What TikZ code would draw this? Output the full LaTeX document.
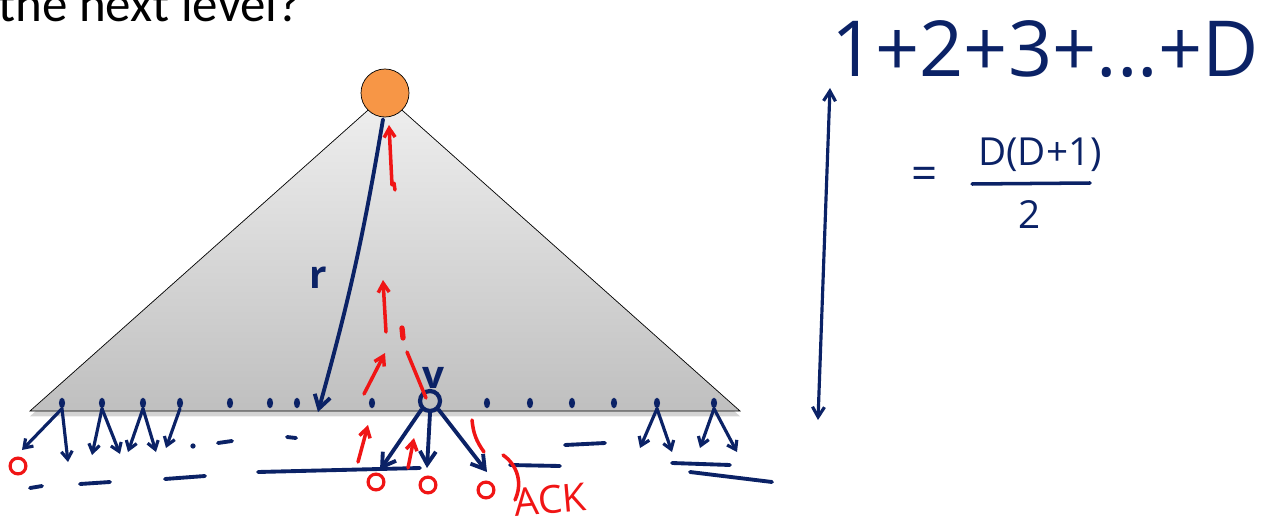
\documentclass[tikz,border=0pt]{standalone}
\usepackage{fontspec}
\setmainfont{Carlito}
\newfontfamily\handfont{Open Sans}
\usetikzlibrary{positioning,arrows.meta,shadows,calc,shapes.geometric}
\definecolor{ink}{HTML}{0B2266}
\definecolor{pen}{HTML}{F01515}
\definecolor{rootfill}{HTML}{F79646}

\begin{document}
\begin{tikzpicture}[
      x=0.02cm, y=-0.02cm,
      inkline/.style={draw=ink, line width=2.2pt, line cap=round, line join=round},
      penline/.style={draw=pen, line width=2pt, line cap=round, line join=round},
      inkarrow/.style={inkline, -{Straight Barb[length=2.6mm, width=3.2mm]}},
      penarrow/.style={penline, -{Straight Barb[length=1.8mm, width=2.2mm]}},
      leaf/.style={ellipse, fill=ink, inner sep=0pt, minimum width=3.5pt, minimum height=6pt},
      ackmark/.style={circle, draw=pen, line width=1.8pt, inner sep=0pt, minimum width=7pt, minimum height=9pt},
      hand/.style={text=ink, font=\handfont},
    ]
    \useasboundingbox (0,0) rectangle (1268,527);
    \clip (0,0) rectangle (1268,527);
    % slide title, cut off at the top
    \node[anchor=base west, inner sep=0pt, font=\fontsize{29}{32}\selectfont] (title) at (-2,22) {the next level?};
    % the shaded tree
    \shade[top color=gray!12, bottom color=gray!50, draw=black, thin,
           drop shadow={opacity=0.35, shadow xshift=0pt, shadow yshift=-3pt}]
      (385,95) -- (740,411) -- (30,411) -- cycle;
    \node[circle, draw=black, thin, fill=rootfill, minimum size=48*0.02cm, inner sep=0pt] (root) at (385,93) {};
    % leaves on the base
    \foreach \x [count=\i] in {62,102,143,180,230,270,297,372,487,530,572,614,657,714}
      \node[leaf] (l\i) at (\x,403) {};
    \node[circle, draw=ink, line width=2.4pt, minimum size=20*0.02cm, inner sep=0pt] (v) at (430,401) {};
    \node[hand, font=\handfont\bfseries\fontsize{22}{24}\selectfont] (vlbl) at (433,378) {v};
    \node[hand, font=\handfont\bfseries\fontsize{22}{24}\selectfont] (rlbl) at (318,278) {r};
    % the long path from the root
    \coordinate (rend) at (318,412);
    \draw[inkarrow] (root.south) ++(-2,2) coordinate (rstart) to[bend left=3] (rend);
    % children of v
    \coordinate (vl) at (380,470);
    \coordinate (vm) at (427,468);
    \coordinate (vr) at (487,472);
    \draw[inkarrow] (v.south west) -- (vl);
    \draw[inkarrow] (v.south) -- (vm);
    \draw[inkarrow] (v.south east) -- (vr);
    % children of the other leaves
    \foreach \n/\a/\b in {l1/22/450, l1/68/462, l2/92/455, l2/120/454, l3/128/452, l3/156/452, l4/166/448, l13/640/448, l13/672/452, l14/700/448, l14/737/452}
      \draw[inkline, -{Straight Barb[length=1.6mm, width=2.2mm]}, line width=1.8pt] (\n.south) -- (\a,\b);
    \node[leaf, minimum width=3pt, minimum height=3pt] (dot1) at (193,446) {};
    % next level (dashes)
    \foreach \a/\b/\c/\d in {218/443/232/441, 287/437/296/438, 565/445/605/443, 30/488/42/486, 80/484/110/482, 165/479/205/476, 258/472/420/468, 510/465/560/466, 672/463/730/465, 690/472/772/482}
      \draw[inkline] (\a,\b) -- (\c,\d);
    % acknowledgements going up
    \draw[penarrow] (392,185) -- (389,125);
    \draw[penline] (394,183) -- (395,190);
    \draw[penarrow] (386,332) -- (383,280);
    \draw[penline, line width=3pt] (402,328) -- (403,338);
    \draw[penline] (407,352) -- (426,398);
    \draw[penarrow] (364,394) -- (385,353);
    \draw[penarrow] (358,462) -- (368,425);
    \draw[penarrow] (408,468) -- (414,438);
    \draw[penline] (484,452) to[bend left=15] (472,420);
    \draw[penline] (503,455) to[bend left=40] (515,500);
    \node[ackmark] (a0) at (18,466) {};
    \node[ackmark] (a1) at (376,482) {};
    \node[ackmark] (a2) at (428,485) {};
    \node[ackmark] (a3) at (486,490) {};
    \node[text=pen, font=\handfont\fontsize{22}{24}\selectfont, rotate=5] (ack) at (550,500) {ACK};
    % depth arrow and the sum
    \coordinate (dtop) at (830,88);
    \coordinate (dbot) at (818,420);
    \draw[inkline, line width=1.8pt, {Straight Barb[length=2mm, width=2.4mm]}-{Straight Barb[length=2mm, width=2.4mm]}] (dbot) -- (dtop);
    \node[hand, font=\handfont\fontsize{44}{48}\selectfont, anchor=base] (sum) at (1045,77) {1+2+3+...+D};
    \node[hand, font=\handfont\fontsize{22}{24}\selectfont] (num) at (1040,155) {D(D+1)};
    \node[hand, font=\handfont\fontsize{22}{24}\selectfont] (den) at (1030,215) {2};
    \node[hand, font=\handfont\fontsize{26}{28}\selectfont] (eq) at (925,178) {=};
    \coordinate (barl) at (972,184);
    \coordinate (barr) at (1090,183);
    \draw[inkline, line width=2pt] (barl) -- (barr);
\end{tikzpicture}
\end{document}
